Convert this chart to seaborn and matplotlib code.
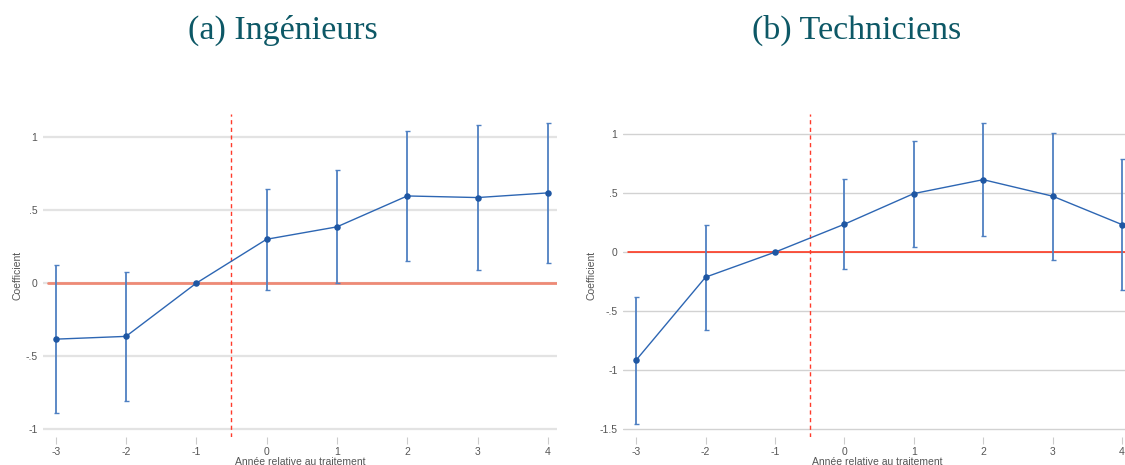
import numpy as np
import pandas as pd
import matplotlib
matplotlib.use("Agg")
import matplotlib.pyplot as plt
import seaborn as sns

# Event-study coefficients with 95% confidence intervals
years = [-3, -2, -1, 0, 1, 2, 3, 4]

coef_ing = [-0.384, -0.365, 0.0, 0.301, 0.386, 0.598, 0.587, 0.619]
lo_ing = [-0.890, -0.806, 0.0, -0.045, -0.002, 0.155, 0.089, 0.140]
hi_ing = [0.126, 0.075, 0.0, 0.647, 0.774, 1.044, 1.087, 1.096]

coef_tech = [-0.915, -0.212, 0.0, 0.237, 0.497, 0.615, 0.475, 0.234]
lo_tech = [-1.455, -0.661, 0.0, -0.144, 0.047, 0.136, -0.065, -0.322]
hi_tech = [-0.379, 0.234, 0.0, 0.619, 0.946, 1.098, 1.014, 0.788]

ticks_ing = [-1, -0.5, 0, 0.5, 1]
ticklabels_ing = ["-1", "-.5", "0", ".5", "1"]
ticks_tech = [-1.5, -1, -0.5, 0, 0.5, 1]
ticklabels_tech = ["-1.5", "-1", "-.5", "0", ".5", "1"]

titles = ["(a) Ingénieurs", "(b) Techniciens"]

sns.set_theme(style="white")
plt.rcParams["font.family"] = ["Liberation Sans", "DejaVu Sans"]

W, H = 1125, 465
fig = plt.figure(figsize=(W / 100, H / 100), dpi=100)

def px_axes(x0, y0, x1, y1):
    return fig.add_axes([x0 / W, 1 - y1 / H, (x1 - x0) / W, (y1 - y0) / H])

ax_a = px_axes(43, 114, 557, 437)
ax_b = px_axes(623, 114, 1131, 437)

panels = [
    (ax_a, coef_ing, lo_ing, hi_ing, ticks_ing, ticklabels_ing, (-1.055, 1.16), (-3.18, 4.13),
     dict(color="#ee8a76", lw=2.0), dict(color="#e3e3e3", lw=1.6)),
    (ax_b, coef_tech, lo_tech, hi_tech, ticks_tech, ticklabels_tech, (-1.568, 1.172), (-3.19, 4.13),
     dict(color="#ff2a10", lw=1.1), dict(color="#d2d2d2", lw=1.0)),
]

line_col = "#2d66b3"
pt_col = "#1f57a3"
err_col = "#4f80c2"
tick_col = "#555555"

for ax, coef, lo, hi, yt, ytl, ylim, xlim, zero_kw, grid_kw in panels:
    df = pd.DataFrame({"annee": years, "coef": coef, "lo": lo, "hi": hi})
    ax.set_xlim(*xlim)
    ax.set_ylim(*ylim)
    for y in yt:
        ax.axhline(y, zorder=0, **grid_kw)
    ax.axhline(0, xmin=0.01, zorder=1, **zero_kw)
    ax.axvline(-0.5, color="#ff3b2b", lw=1.0, ls=(0, (3, 2.5)), zorder=1)
    ax.errorbar(df["annee"], df["coef"],
                yerr=[df["coef"] - df["lo"], df["hi"] - df["coef"]],
                fmt="none", ecolor=err_col, elinewidth=1.3, capsize=1.8, capthick=1.0, zorder=2)
    sns.lineplot(data=df, x="annee", y="coef", ax=ax, color=line_col, lw=1.0, zorder=3)
    sns.scatterplot(data=df, x="annee", y="coef", ax=ax, color=pt_col, s=22,
                    edgecolor=pt_col, linewidth=0, zorder=4)
    ax.set_yticks(yt)
    ax.set_yticklabels(ytl)
    ax.set_xticks(years)
    ax.set_xticklabels([str(v) for v in years])
    ax.tick_params(axis="y", length=0, pad=4, labelsize=7.5, labelcolor=tick_col)
    ax.tick_params(axis="x", length=5, width=0.8, color="#cccccc", direction="out",
                   pad=2, labelsize=7.5, labelcolor=tick_col, bottom=True)
    for s in ax.spines.values():
        s.set_visible(False)
    ax.set_xlabel("Année relative au traitement", fontsize=7.5, color=tick_col, labelpad=0)
    ax.set_ylabel("Coefficient", fontsize=7.5, color=tick_col, labelpad=2)
    ax.set_facecolor("none")

title_kw = dict(fontsize=24.5, color="#0d5866", family=["Liberation Serif", "DejaVu Serif"],
                ha="center", va="baseline")
fig.text(283 / W, 1 - 39 / H, titles[0], **title_kw)
fig.text(857 / W, 1 - 39 / H, titles[1], **title_kw)

fig.savefig("out.png", dpi=100, facecolor="white")
